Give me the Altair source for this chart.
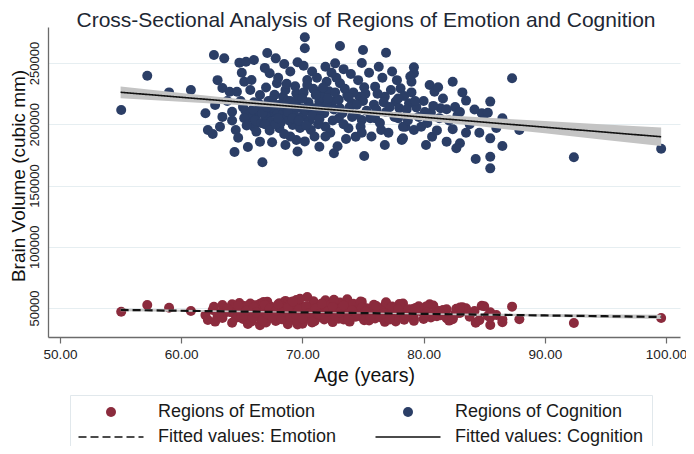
import altair as alt
import pandas as pd

# ---- subjects: age (years), cognition volume (thousand mm^3), emotion volume (thousand mm^3)
age = [
    55.05, 57.2, 59.0, 60.8, 62.0, 62.2, 62.6, 62.7, 63.55, 63.0,
    62.8, 63.4, 63.4, 64.4, 65.5, 64.5, 64.8, 65.35, 66.0, 65.2,
    65.8, 64.0, 64.6, 64.2, 70.2, 70.2, 73.1, 75.0, 76.9, 67.1,
    67.8, 68.5, 69.6, 70.1, 71.9, 72.7, 69.0, 70.8, 74.0, 67.3,
    67.9, 70.4, 72.0, 73.1, 75.1, 76.0, 78.1, 66.5, 68.4, 69.5,
    71.5, 73.7, 74.7, 76.8, 77.7, 71.4, 72.5, 74.1, 66.2, 67.3,
    68.6, 70.0, 71.1, 73.0, 74.9, 76.0, 77.9, 66.0, 68.1, 69.2,
    70.7, 71.9, 73.8, 74.4, 76.5, 78.5, 66.5, 67.5, 68.6, 69.5,
    71.4, 72.6, 75.1, 69.6, 66.7, 76.8, 78.2, 79.2, 79.2, 79.0,
    80.5, 80.9, 81.2, 82.4, 87.3, 78.8, 79.4, 81.4, 81.9, 80.6,
    83.5, 85.5, 84.8, 85.3, 82.8, 86.5, 78.3, 79.2, 79.8, 80.7,
    78.3, 83.5, 85.5, 87.9, 80.2, 81.9, 83.0, 82.7, 86.5, 84.3,
    85.5, 85.5, 92.4, 99.6, 64.9, 65.1, 65.3, 65.6, 65.8, 66.1,
    66.3, 66.4, 66.6, 66.8, 67.0, 67.2, 67.4, 67.6, 67.7, 67.9,
    68.1, 68.2, 68.4, 68.6, 68.8, 68.9, 69.1, 69.3, 69.4, 69.6,
    69.8, 69.9, 70.1, 70.3, 70.5, 70.6, 70.9, 71.0, 71.2, 71.3,
    71.6, 71.8, 72.0, 72.2, 72.3, 72.6, 72.8, 73.0, 73.3, 73.5,
    73.6, 73.9, 74.2, 74.4, 74.6, 74.8, 75.0, 75.3, 75.5, 75.7,
    75.9, 76.2, 76.4, 76.6, 76.9, 77.1, 77.3, 77.6, 77.8, 78.0,
    78.4, 78.7, 79.0, 79.6, 80.0, 80.3, 80.8, 81.1, 81.6, 82.1,
    82.6, 83.2, 83.8, 84.2, 84.6, 85.0, 86.0, 63.8, 64.2, 64.7,
    63.2, 65.0, 66.9, 68.0, 69.0, 70.2, 71.0, 72.9, 73.4, 74.9,
    76.3, 77.4, 78.9, 65.7, 67.0, 68.7, 70.4, 71.7, 72.4, 65.2,
    65.4, 65.9, 66.0, 66.2, 66.7, 66.9, 67.1, 67.3, 67.5, 67.8,
    68.0, 68.3, 68.5, 68.8, 69.0, 69.2, 69.5, 69.7, 70.0, 70.3,
    70.6, 70.8, 71.1, 71.4, 71.6, 71.9, 72.1, 72.5, 72.7, 73.1,
    73.4, 73.8, 74.1, 74.5, 74.9, 75.2, 75.6, 76.1, 76.7, 77.2,
    77.9, 78.6, 79.3, 80.1, 81.3, 82.4, 83.0,
]

cognition_k = [
    211.6, 239.6, 226.0, 228.0, 209.0, 195.3, 192.0, 256.5, 253.8, 236.0,
    215.7, 229.6, 206.0, 177.3, 181.4, 195.3, 250.3, 251.0, 252.4, 234.7,
    236.1, 226.6, 226.6, 210.2, 271.0, 262.0, 263.9, 260.6, 258.4, 258.2,
    253.8, 249.2, 250.6, 247.8, 247.0, 249.7, 243.0, 243.0, 241.0, 241.6,
    233.4, 236.1, 234.7, 233.4, 230.2, 230.7, 229.3, 223.9, 222.5, 225.3,
    226.6, 223.9, 222.5, 222.5, 218.5, 218.5, 218.5, 217.1, 207.6, 209.0,
    206.2, 206.2, 207.6, 204.9, 203.5, 204.9, 204.9, 198.0, 196.7, 199.4,
    195.3, 198.0, 196.7, 189.9, 195.3, 198.0, 185.8, 185.3, 183.1, 187.2,
    181.7, 176.3, 174.1, 177.7, 169.0, 183.1, 187.2, 246.5, 241.6, 234.7,
    232.0, 226.6, 230.2, 234.7, 237.5, 217.1, 213.8, 213.0, 212.2, 209.4,
    219.3, 218.5, 209.0, 209.4, 207.3, 204.9, 198.0, 195.3, 198.0, 189.9,
    188.5, 193.1, 188.5, 195.3, 183.1, 185.8, 184.5, 180.4, 182.3, 171.6,
    173.5, 164.0, 173.0, 180.0, 219, 214, 211, 208, 205, 203,
    212, 217, 201, 214, 206, 219, 202, 213, 224, 208,
    216, 201, 211, 228, 219, 203, 214, 209, 231, 220,
    197, 213, 226, 211, 218, 203, 229, 213, 238, 200,
    222, 209, 215, 227, 193, 212, 238, 220, 209, 229,
    188, 214, 226, 208, 236, 198, 219, 211, 242, 190,
    216, 225, 201, 238, 210, 193, 228, 206, 236, 213,
    223, 203, 226, 206, 219, 201, 215, 195, 221, 203,
    214, 226, 200, 212, 193, 203, 197, 219, 203, 189,
    198, 242, 246, 238, 190, 186, 190, 182, 245, 250,
    247, 243, 239, 228, 230, 233, 232, 230, 242, 205,
    199, 212, 218, 194, 209, 200, 214, 195, 220, 200,
    205, 215, 192, 210, 219, 205, 214, 203, 221, 199,
    214, 207, 224, 204, 212, 190, 221, 203, 226, 213,
    200, 222, 206, 216, 193, 225, 205, 212, 218, 214,
    221, 212, 219, 210, 205, 196, 210,
]

emotion_k = [
    46.9, 52.4, 50.2, 47.6, 44.2, 40.2, 48.4, 51.0, 46.0, 43.5,
    38.9, 52.5, 41.8, 45.2, 37.0, 49.8, 54.0, 43.0, 47.9, 51.6,
    40.5, 46.8, 42.3, 53.1, 50.4, 44.6, 48.8, 42.0, 47.3, 55.2,
    39.4, 46.1, 52.9, 41.2, 56.3, 45.0, 49.1, 38.1, 51.7, 44.0,
    50.8, 59.0, 43.7, 54.4, 40.0, 49.5, 44.8, 36.0, 53.8, 47.0,
    42.7, 57.1, 46.4, 52.0, 39.0, 48.0, 38.5, 44.9, 50.1, 42.6,
    55.8, 37.2, 52.3, 46.6, 55.0, 41.5, 50.6, 44.5, 48.7, 40.8,
    46.2, 50.9, 39.8, 48.2, 43.1, 47.7, 53.5, 45.6, 41.0, 56.5,
    44.3, 49.6, 45.8, 36.5, 47.2, 38.7, 52.6, 45.3, 41.4, 49.0,
    53.0, 43.8, 47.5, 40.9, 51.1, 46.3, 50.0, 44.1, 48.9, 42.2,
    49.7, 45.1, 51.8, 43.4, 46.7, 40.8, 53.6, 39.5, 47.1, 44.7,
    42.9, 47.8, 36.1, 40.8, 51.2, 41.7, 45.9, 49.3, 38.3, 38.0,
    46.5, 42.4, 37.8, 41.8, 47.0, 41.1, 50.5, 44.8, 39.0, 52.2,
    46.0, 42.5, 48.3, 55.0, 38.2, 45.4, 51.0, 43.3, 49.2, 40.3,
    53.9, 46.9, 42.0, 50.3, 36.8, 47.4, 54.7, 44.2, 49.9, 39.6,
    57.5, 45.2, 41.9, 51.4, 47.6, 43.0, 55.6, 39.2, 49.4, 44.6,
    53.2, 40.7, 47.3, 51.9, 43.9, 56.8, 45.7, 41.3, 50.7, 44.4,
    48.1, 38.9, 53.4, 42.8, 47.9, 55.3, 43.6, 49.8, 39.9, 46.8,
    52.7, 44.0, 48.6, 41.6, 54.6, 45.5, 50.2, 42.1, 47.0, 53.3,
    40.4, 49.0, 44.9, 51.5, 41.0, 46.4, 52.1, 43.2, 48.4, 39.7,
    45.0, 50.6, 42.9, 47.6, 40.1, 51.4, 44.3, 49.6, 38.0, 51.9,
    45.9, 42.8, 48.5, 44.7, 52.8, 42.4, 54.1, 46.1, 40.6, 49.3,
    43.8, 51.3, 45.2, 53.7, 41.7, 47.8, 50.4, 44.0, 48.2, 44.0,
    48.0, 42.2, 50.7, 46.3, 39.8, 52.4, 45.0, 49.4, 43.1, 47.5,
    53.0, 40.9, 46.8, 50.0, 42.9, 55.4, 44.5, 48.6, 41.5, 51.1,
    46.0, 38.6, 49.6, 44.8, 53.6, 42.3, 47.2, 50.9, 43.5, 46.4,
    52.0, 41.1, 48.0, 44.3, 50.3, 46.9, 42.6, 51.7, 45.6, 40.7,
    48.8, 43.0, 49.9, 44.6, 47.3, 42.0, 50.4,
]

# ---- fitted values and 95% CI
fit_age = [55, 60, 65, 70, 72, 75, 80, 85, 90, 95, 99.6]
cog_fit = [226100, 222030, 217960, 213890, 212260, 209820, 205750, 201680, 197610, 193540, 189800]
cog_lo = [221300, 218460, 215500, 212200, 210660, 208030, 203090, 197870, 192560, 187210, 182280]
cog_hi = [230900, 225600, 220420, 215580, 213860, 211610, 208410, 205490, 202660, 199870, 197320]
emo_fit = [48400, 47760, 47120, 46480, 46230, 45840, 45200, 44570, 43930, 43290, 42700]
emo_lo = [47300, 46960, 46560, 46100, 45880, 45440, 44620, 43750, 42830, 41890, 41000]
emo_hi = [49500, 48560, 47680, 46860, 46580, 46240, 45780, 45390, 45030, 44690, 44400]

x_ticks = [50, 60, 70, 80, 90, 100]
y_ticks = [50000, 100000, 150000, 200000, 250000]

# legend order (column-major, 2 columns)
SERIES = ["Regions of Emotion", "Fitted values: Emotion",
          "Regions of Cognition", "Fitted values: Cognition"]

n = len(age)
assert len(cognition_k) == n and len(emotion_k) == n, (n, len(cognition_k), len(emotion_k))

points = pd.DataFrame({
    "age": age + age,
    "volume": [v * 1000 for v in emotion_k] + [v * 1000 for v in cognition_k],
    "series": [SERIES[0]] * n + [SERIES[2]] * n,
})
m = len(fit_age)
fits = pd.DataFrame({
    "age": fit_age + fit_age,
    "fit": emo_fit + cog_fit,
    "lo": emo_lo + cog_lo,
    "hi": emo_hi + cog_hi,
    "series": [SERIES[1]] * m + [SERIES[3]] * m,
})

RED = "#8b2b3d"
BLUE = "#2b3e66"
FONT = "Liberation Sans"

xscale = alt.Scale(domain=[49.01, 101.155], nice=False, zero=False)
yscale = alt.Scale(domain=[26330, 279390], nice=False, zero=False)

xaxis = alt.Axis(values=x_ticks, format=".2f", grid=False, labelFontSize=13.5, labelFont=FONT,
                 labelColor="#222222", tickSize=6, tickColor="#6b6b6b", tickWidth=1.2,
                 domainColor="#6b6b6b", domainWidth=1.3, labelPadding=4, labelFlush=False,
                 titleFontSize=19.5, titleFont=FONT, titleFontWeight="normal", titleColor="#111111",
                 titleBaseline="alphabetic", titleY=44)
yaxis = alt.Axis(values=y_ticks, format="d", grid=True, gridColor="#e6eef1", gridWidth=1,
                 labelAngle=-90, labelAlign="center", labelBaseline="alphabetic",
                 labelFontSize=13, labelFont=FONT, labelColor="#222222", ticks=False, tickSize=0,
                 labelPadding=10, domainColor="#6b6b6b", domainWidth=1.3,
                 titleFontSize=19, titleFont=FONT, titleFontWeight="normal", titleColor="#111111",
                 titleAngle=-90, titleBaseline="alphabetic", titleAlign="center",
                 titleX=-24, titleY=148.5)
XT = "Age (years)"
YT = "Brain Volume (cubic mm)"

leg = alt.Legend(title=None)
LINE_PATH = "M-6.5,0H6.5"
fill_scale = alt.Scale(domain=SERIES, range=[RED, "transparent", BLUE, "transparent"])
shape_scale = alt.Scale(domain=SERIES, range=["circle", LINE_PATH, "circle", LINE_PATH])
stroke_scale = alt.Scale(domain=SERIES, range=["transparent", "#111111", "transparent", "#111111"])
dash_scale = alt.Scale(domain=SERIES, range=[[1, 0], [8, 4], [1, 0], [1, 0]])

pts = alt.Chart(points).mark_point(filled=True, size=100, opacity=1, strokeWidth=0).encode(
    x=alt.X("age:Q", scale=xscale, axis=xaxis, title=XT),
    y=alt.Y("volume:Q", scale=yscale, axis=yaxis, title=YT),
    fill=alt.Fill("series:N", scale=fill_scale, legend=leg),
    shape=alt.Shape("series:N", scale=shape_scale, legend=leg),
)

band = alt.Chart(fits).mark_area(color="#c4c4c4", opacity=1).encode(
    x=alt.X("age:Q", scale=xscale, axis=xaxis, title=XT),
    y=alt.Y("lo:Q", scale=yscale, axis=yaxis, title=YT),
    y2="hi:Q",
    detail="series:N",
)

def fit_line(name, width):
    return alt.Chart(fits).transform_filter(alt.datum.series == name).mark_line(
        strokeWidth=width).encode(
        x=alt.X("age:Q", scale=xscale, axis=xaxis, title=XT),
        y=alt.Y("fit:Q", scale=yscale, axis=yaxis, title=YT),
        stroke=alt.Stroke("series:N", scale=stroke_scale, legend=leg),
        strokeDash=alt.StrokeDash("series:N", scale=dash_scale, legend=leg),
    )

chart = alt.layer(pts, band, fit_line(SERIES[1], 2.2), fit_line(SERIES[3], 1.6)).properties(
    width=632, height=310,
    title=alt.TitleParams("Cross-Sectional Analysis of Regions of Emotion and Cognition",
                          fontSize=21, font=FONT, fontWeight="normal", color="#1d2733",
                          anchor="middle", frame="group", baseline="alphabetic", offset=-21, dx=2),
    autosize=alt.AutoSizeParams(type="none"),
    padding={"left": 40, "top": 19, "right": 6, "bottom": 109},
).configure_view(stroke="transparent").configure_legend(
    orient="none", legendX=22, legendY=368, columns=2, columnPadding=35, rowPadding=7,
    symbolOffset=24, labelOffset=38, padding=8, strokeColor="#e1e8ec", fillColor="white",
    labelFont=FONT, labelFontSize=18, labelColor="#1a1a1a", labelLimit=400,
    symbolSize=100, symbolStrokeWidth=1.5,
)

chart.save("out.html", embed_options={"renderer": "svg", "actions": False})
